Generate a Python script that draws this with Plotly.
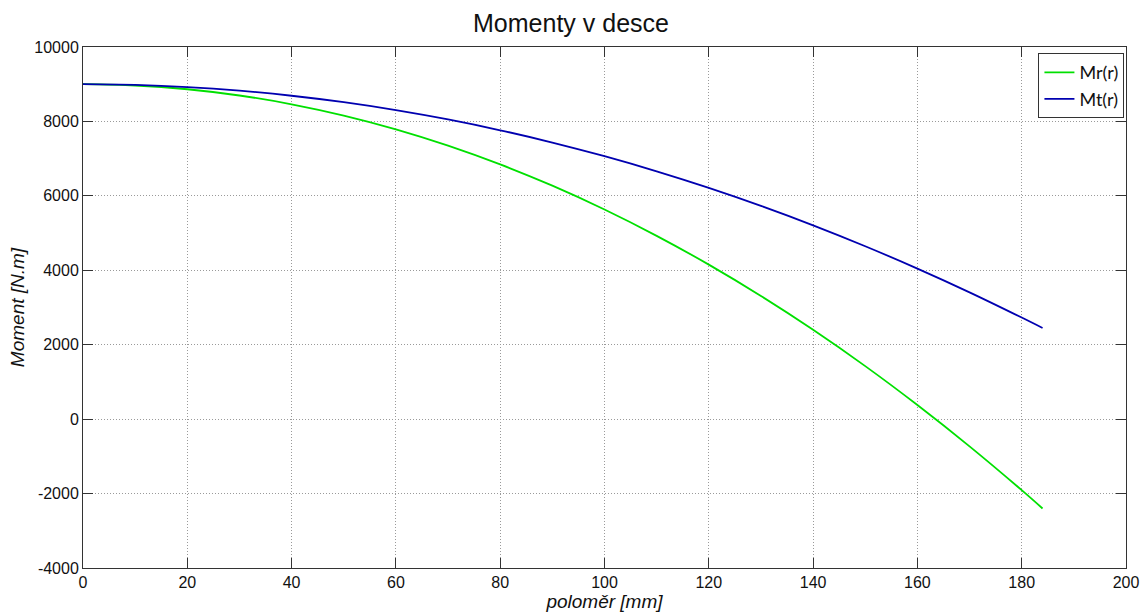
import plotly.graph_objects as go

r_mm = [0, 10, 20, 30, 40, 50, 60, 70, 80, 90, 100, 110, 120, 130, 140, 150, 160, 170, 180, 184]
Mr = [9000, 8966, 8865, 8697, 8461, 8158, 7788, 7350, 6845, 6273, 5633, 4926, 4152, 3310, 2401, 1425, 380, -731, -1908, -2400]
Mt = [9000, 8981, 8923, 8826, 8690, 8516, 8303, 8052, 7762, 7433, 7065, 6659, 6214, 5730, 5208, 4646, 4046, 3408, 2730, 2450]

x_ticks = [0, 20, 40, 60, 80, 100, 120, 140, 160, 180, 200]
y_ticks = [-4000, -2000, 0, 2000, 4000, 6000, 8000, 10000]
y_labels = ["-4000", "-2000", "0", "2000", "4000", "6000", "8000", "10000"]

FONT = "Liberation Sans, Arial"

fig = go.Figure()
fig.add_trace(go.Scatter(x=r_mm, y=Mr, mode="lines", name="Mr(r)",
                         line=dict(color="#00e000", width=1.8, shape="spline")))
fig.add_trace(go.Scatter(x=r_mm, y=Mt, mode="lines", name="Mt(r)",
                         line=dict(color="#0000b0", width=1.8, shape="spline")))

axis_common = dict(showline=True, linecolor="#333333", linewidth=1, mirror="ticks",
                   ticks="inside", ticklen=10, tickcolor="#333333", tickwidth=1,
                   showgrid=True, gridcolor="#9a9a9a", griddash="1px,2px", gridwidth=1,
                   zeroline=False, automargin=False,
                   tickfont=dict(family=FONT, size=16, color="#111"))

fig.update_xaxes(range=[0, 200], tickvals=x_ticks,
                 title=dict(text="<i>poloměr [mm]</i>", font=dict(family=FONT, size=19, color="#111"), standoff=0),
                 **axis_common)
fig.update_yaxes(range=[-4000, 10000], tickvals=y_ticks, ticktext=y_labels,
                 title=dict(text="<i>Moment [N.m]</i>", font=dict(family=FONT, size=19, color="#111"), standoff=4),
                 **axis_common)

fig.update_layout(
    width=1142, height=614,
    margin=dict(l=83, r=16, t=47, b=46),
    paper_bgcolor="white", plot_bgcolor="white",
    title=dict(text="Momenty v desce", x=0.5, xanchor="center", y=0.962, yanchor="middle",
               font=dict(family=FONT, size=25, color="#111")),
    legend=dict(x=0.9985, y=0.988, xanchor="right", yanchor="top",
                bgcolor="white", bordercolor="#333333", borderwidth=1,
                font=dict(family="Lato, Liberation Sans", size=18, color="#111"),
                tracegroupgap=0),
    showlegend=True,
)

fig.write_html("out.html", config={"displayModeBar": False},
               post_script="document.body.style.margin='0px';document.body.style.overflow='hidden';")
